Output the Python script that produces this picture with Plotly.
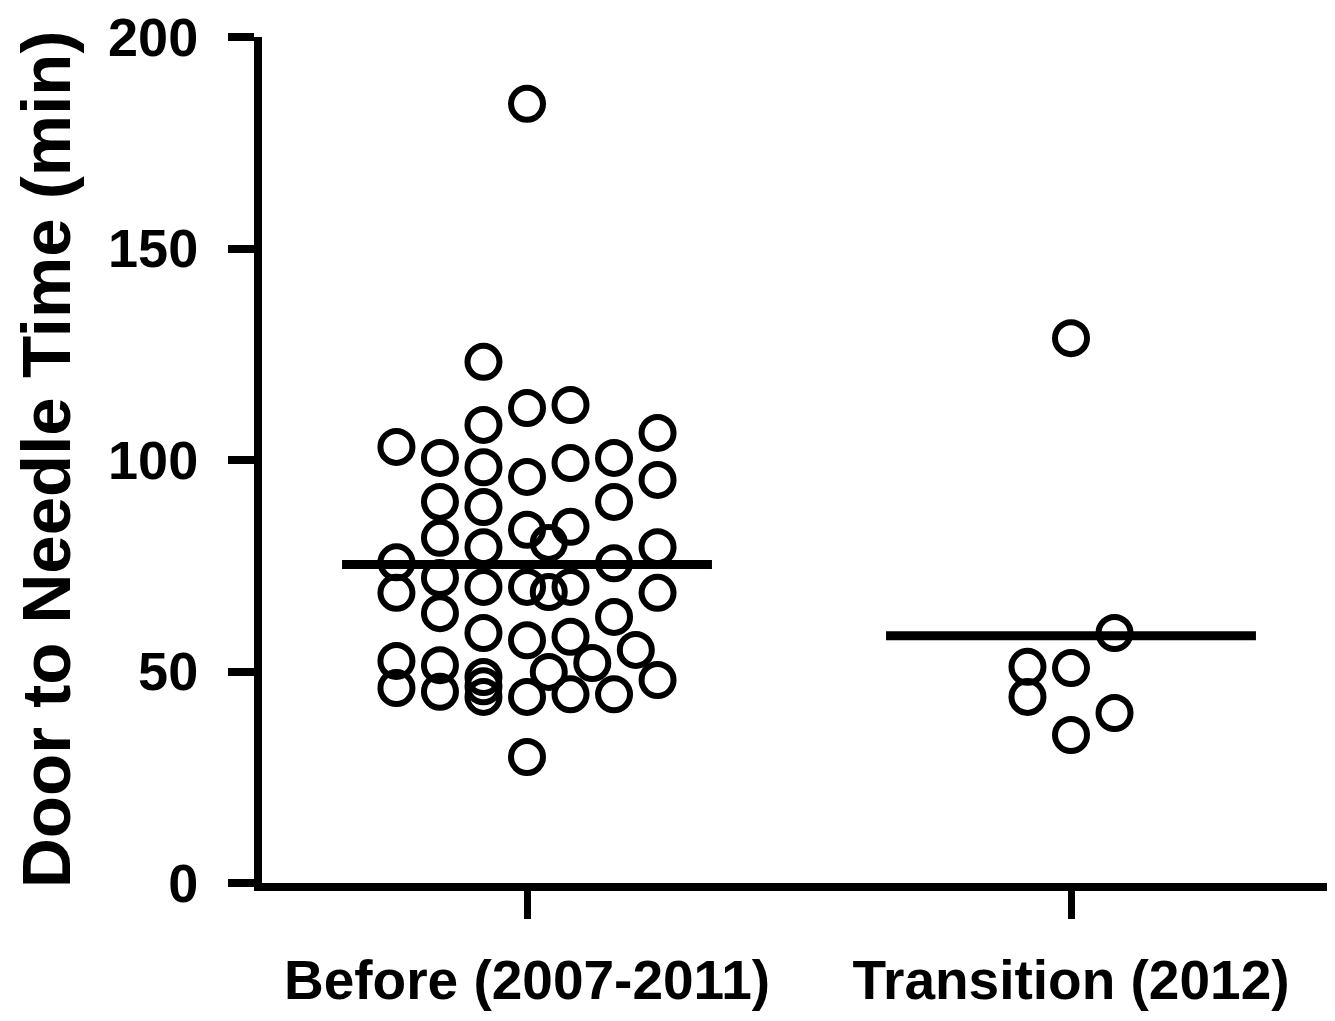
import plotly.graph_objects as go
import numpy as np

CATEGORIES = ["Before (2007-2011)", "Transition (2012)"]

BEFORE_VALUES = [184.2, 123.2, 112.3, 113.0, 108.3, 106.4, 103.1, 100.5, 100.5, 98.3,
                 99.3, 96.0, 95.3, 90.1, 90.1, 88.9, 83.5, 84.2, 81.6, 79.4,
                 80.4, 79.4, 75.8, 75.6, 72.1, 70.0, 70.0, 70.0, 68.8, 68.6,
                 68.6, 63.8, 62.9, 59.1, 57.4, 58.2, 55.1, 52.5, 52.0, 51.5,
                 49.9, 48.7, 48.0, 46.1, 45.2, 46.5, 44.0, 44.0, 44.6, 44.6,
                 29.8]
BEFORE_SLOTS = [0, -1, 0, 1, -1, 3, -3, -2, 2, -1,
                1, 0, 3, -2, 2, -1, 0, 1, -2, -1,
                0.5, 3, -3, 2, -2, -1, 0, 1, 0.5, -3,
                3, -2, 2, -1, 0, 1, 2.5, -3, 1.5, -2,
                0.5, -1, 3, -3, -2, -1, -1, 0, 1, 2,
                0]

TRANSITION_VALUES = [128.8, 59.1, 51.1, 50.8, 44.0, 40.2, 35.0]
TRANSITION_SLOTS = [0, 1, -1, 0, -1, 1, 0]

Y_TICKS = [0, 50, 100, 150, 200]
Y_TITLE = "Door to Needle Time (min)"

SLOT_STEP = 0.08
MEAN_HALF = 0.34
FONT = "Liberation Sans, Arial, sans-serif"

W, H = 1327, 1013
ML, MR, MT, MB = 254, 0, 29, 138
PLOT_W = W - ML - MR
PX_PER_CAT = 544.0
LEFT = -265 / PX_PER_CAT

fig = go.Figure()

groups = [(BEFORE_VALUES, BEFORE_SLOTS), (TRANSITION_VALUES, TRANSITION_SLOTS)]
for i, (vals, slots) in enumerate(groups):
    xs = [i + s * SLOT_STEP for s in slots]
    fig.add_trace(go.Scatter(
        x=xs, y=vals, mode="markers",
        marker=dict(symbol="circle-open", size=32, color="black",
                    line=dict(width=6, color="black")),
        showlegend=False, cliponaxis=False, hoverinfo="y"))

for i, (vals, slots) in enumerate(groups):
    m = float(np.mean(vals))
    fig.add_trace(go.Scatter(
        x=[i - MEAN_HALF, i + MEAN_HALF], y=[m, m], mode="lines",
        line=dict(color="black", width=9),
        showlegend=False, cliponaxis=False, hoverinfo="y"))

fig.update_layout(
    width=W, height=H,
    margin=dict(l=ML, r=MR, t=MT, b=MB, pad=0),
    paper_bgcolor="white", plot_bgcolor="white",
    font=dict(family=FONT, color="black"),
    xaxis=dict(
        range=[LEFT, LEFT + PLOT_W / PX_PER_CAT],
        tickmode="array", tickvals=[0, 1], ticktext=CATEGORIES,
        ticks="outside", ticklen=28, tickwidth=7, tickcolor="black",
        showline=True, linewidth=8, linecolor="black",
        showgrid=False, zeroline=False,
        tickfont=dict(size=55, family=FONT, weight="bold"),
        ticklabelstandoff=14,
    ),
    yaxis=dict(
        range=[0, 200],
        tickmode="array", tickvals=Y_TICKS,
        ticks="outside", ticklen=26, tickwidth=8, tickcolor="black",
        showline=True, linewidth=8, linecolor="black",
        showgrid=False, zeroline=False,
        tickfont=dict(size=54, family=FONT, weight="bold"),
        ticklabelstandoff=19,
        ticklabeloverflow="allow",
    ),
    annotations=[dict(
        text=Y_TITLE, textangle=-90, showarrow=False,
        xref="paper", yref="paper", x=(38 - ML) / PLOT_W, y=0.5,
        xanchor="center", yanchor="middle",
        font=dict(size=69, family=FONT, weight="bold", color="black"))],
)

fig.write_html("out.html")
